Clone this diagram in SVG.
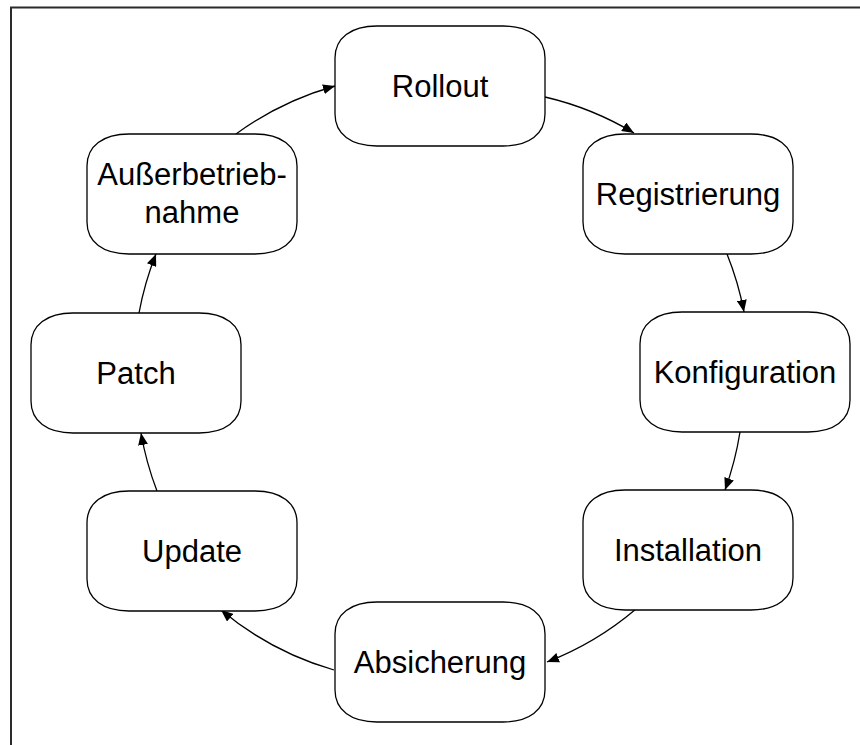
<svg xmlns="http://www.w3.org/2000/svg" width="860" height="745" viewBox="0 0 860 745">
  <style>
    .box { fill: #ffffff; stroke: #000000; stroke-width: 1.3; }
    .label { font-family: "Liberation Sans", Arial, Helvetica, sans-serif; font-size: 31px; fill: #000000; text-anchor: middle; }
    .edge { fill: none; stroke: #000000; stroke-width: 1.3; marker-end: url(#arrow); }
    .frame { fill: none; stroke: #2b2b2b; stroke-width: 2; }
  </style>
  <defs>
    <!-- rounded "squircle" node outline, 210 x 120 -->
    <path id="node-shape" d="M42,0 H168 C194,0 210,12 210,32 V88 C210,108 194,120 168,120 H42 C16,120 0,108 0,88 V32 C0,12 16,0 42,0 Z"/>
    <marker id="arrow" markerUnits="userSpaceOnUse" markerWidth="14" markerHeight="10" refX="12" refY="5" orient="auto">
      <path d="M0,0 L12,5 L0,10 Z" fill="#000000"/>
    </marker>
  </defs>

  <rect width="860" height="745" fill="#ffffff"/>
  <path class="frame" d="M11,745 V7.5 H860"/>

  <g id="connectors">
    <path class="edge" d="M545,97 A310,310 0 0 1 634,133"/>
    <path class="edge" d="M727,254 A310,310 0 0 1 744,312"/>
    <path class="edge" d="M740,432 A310,310 0 0 1 725,490"/>
    <path class="edge" d="M636,609 A310,310 0 0 1 547,662"/>
    <path class="edge" d="M334,670 A310,310 0 0 1 221,610"/>
    <path class="edge" d="M157,491 A310,310 0 0 1 141,433"/>
    <path class="edge" d="M139,313 A310,310 0 0 1 156,254"/>
    <path class="edge" d="M236,134 A310,310 0 0 1 335,86"/>
  </g>

  <g id="node-rollout" transform="translate(335,26)">
    <use href="#node-shape" class="box"/>
    <text class="label" x="105" y="71">Rollout</text>
  </g>
  <g id="node-registrierung" transform="translate(583,134)">
    <use href="#node-shape" class="box"/>
    <text class="label" x="105" y="71">Registrierung</text>
  </g>
  <g id="node-konfiguration" transform="translate(640,312)">
    <use href="#node-shape" class="box"/>
    <text class="label" x="105" y="71">Konfiguration</text>
  </g>
  <g id="node-installation" transform="translate(583,490)">
    <use href="#node-shape" class="box"/>
    <text class="label" x="105" y="71">Installation</text>
  </g>
  <g id="node-absicherung" transform="translate(335,602)">
    <use href="#node-shape" class="box"/>
    <text class="label" x="105" y="71">Absicherung</text>
  </g>
  <g id="node-update" transform="translate(87,491)">
    <use href="#node-shape" class="box"/>
    <text class="label" x="105" y="71">Update</text>
  </g>
  <g id="node-patch" transform="translate(31,313)">
    <use href="#node-shape" class="box"/>
    <text class="label" x="105" y="71">Patch</text>
  </g>
  <g id="node-ausserbetriebnahme" transform="translate(87,134)">
    <use href="#node-shape" class="box"/>
    <text class="label" x="105" y="51">Außerbetrieb-</text>
    <text class="label" x="105" y="89">nahme</text>
  </g>
</svg>
